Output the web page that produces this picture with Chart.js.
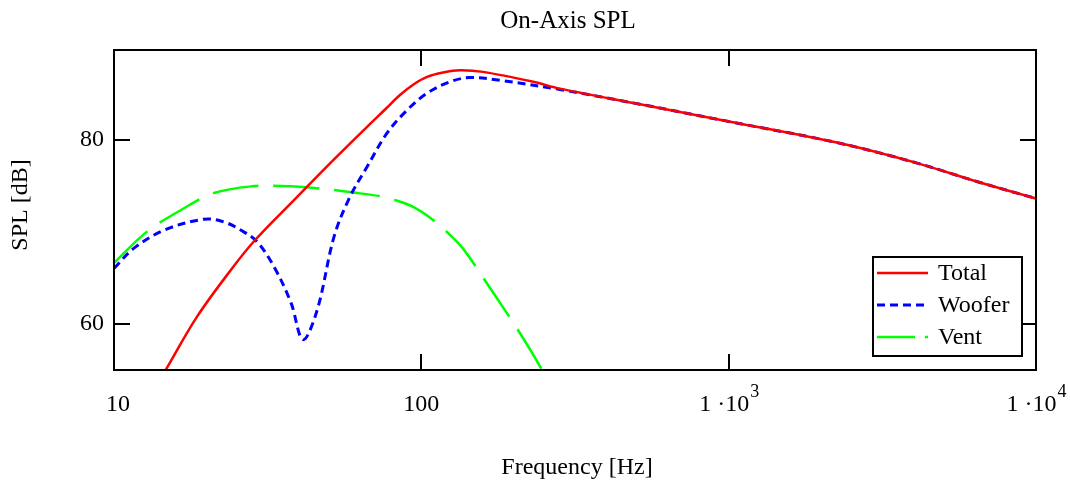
<!DOCTYPE html>
<html>
<head>
<meta charset="utf-8">
<script src="https://cdn.jsdelivr.net/npm/chart.js@4"></script>
<style>
  body { margin: 0; background: #fff; }
</style>
</head>
<body>
<canvas id="myChart" width="1070" height="493"></canvas>
<script>
// values (frequency in Hz, SPL in dB)
var totalFreq = [13, 14.73, 18.63, 24.03, 28.55, 37.67, 51.6, 66.6, 76.2, 85.2, 94.0, 104.4, 117.7, 133.6, 158.8, 231, 282.6, 515, 1011, 2304, 4104, 6412, 10000];
var totalSpl  = [51.9, 55.0, 60.8, 65.9, 69.0, 73.15, 77.8, 81.45, 83.33, 84.9, 86.03, 86.88, 87.36, 87.6, 87.42, 86.35, 85.6, 83.9, 82.0, 79.65, 77.5, 75.5, 73.65];

var wooferFreq = [10, 11.62, 14.55, 19.63, 22.8, 25.9, 29.2, 33.2, 37.67, 41.2, 45.8, 52.0, 58.6, 66.6, 77.3, 89.8, 104.4, 124, 144, 180.4, 282.6, 515, 1011, 2304, 4104, 6412, 10000];
var wooferSpl  = [66.05, 68.25, 70.2, 71.4, 71.1, 70.2, 68.95, 66.2, 62.3, 58.3, 61.5, 69.5, 73.85, 77.1, 80.75, 83.25, 85.1, 86.35, 86.8, 86.5, 85.5, 83.9, 82.0, 79.65, 77.5, 75.5, 73.65];

var ventFreq = [10, 12.81, 16.52, 21.15, 28.55, 34.96, 44.8, 59.96, 73.4, 83.4, 94.0, 104.4, 121.2, 136.7, 163.6, 209.5, 247.1, 280];
var ventSpl  = [66.65, 70.05, 72.4, 74.25, 75.0, 75.0, 74.8, 74.3, 73.9, 73.4, 72.75, 71.8, 70.0, 68.2, 64.4, 59.0, 55.0, 51.5];

var xTicks = [10, 100, 1000, 10000];
var xTickBase = ['10', '100', '1 \u00b710', '1 \u00b710'];
var xTickExp = ['', '', '3', '4'];
var yTicks = [60, 80];

var seriesNames = ['Total', 'Woofer', 'Vent'];

function pts(fs, vs) {
    return fs.map(function (f, i) { return { x: f, y: vs[i] }; });
}

var FONT = '24px "Liberation Serif", "Times New Roman", serif';
var SUP = '18px "Liberation Serif", "Times New Roman", serif';

var frame = {
    id: 'frame',
    afterDraw: function (chart) {
        var c = chart.ctx;
        var a = chart.chartArea;
        var xs = chart.scales.x, ys = chart.scales.y;
        c.save();
        c.strokeStyle = '#000';
        c.lineWidth = 2;
        c.strokeRect(a.left, a.top, a.right - a.left, a.bottom - a.top);

        // inward ticks on all four sides
        c.beginPath();
        xTicks.forEach(function (v) {
            var px = Math.round(xs.getPixelForValue(v));
            c.moveTo(px, a.bottom); c.lineTo(px, a.bottom - 16);
            c.moveTo(px, a.top); c.lineTo(px, a.top + 16);
        });
        yTicks.forEach(function (v) {
            var py = Math.round(ys.getPixelForValue(v));
            c.moveTo(a.left, py); c.lineTo(a.left + 16, py);
            c.moveTo(a.right, py); c.lineTo(a.right - 16, py);
        });
        c.stroke();

        c.fillStyle = '#000';
        c.font = FONT;
        c.textBaseline = 'middle';

        // y tick labels
        c.textAlign = 'right';
        yTicks.forEach(function (v) {
            c.fillText(String(v), a.left - 10, ys.getPixelForValue(v));
        });

        // x tick labels, with superscript exponent
        c.textAlign = 'left';
        xTicks.forEach(function (v, i) {
            var px = xs.getPixelForValue(v);
            c.font = FONT;
            var wb = c.measureText(xTickBase[i]).width;
            c.font = SUP;
            var we = xTickExp[i] ? c.measureText(xTickExp[i]).width : 0;
            var x0 = px - (wb + we) / 2;
            if (i === 0) x0 += 4;
            c.font = FONT;
            c.fillText(xTickBase[i], x0, 405);
            if (xTickExp[i]) {
                c.font = SUP;
                c.fillText(xTickExp[i], x0 + wb + 1, 392);
            }
        });

        // titles
        c.textAlign = 'center';
        c.font = '25px "Liberation Serif", "Times New Roman", serif';
        c.fillText('On-Axis SPL', 568, 21);
        c.font = FONT;
        c.fillText('Frequency [Hz]', 577, 468);
        c.save();
        c.translate(21, 205);
        c.rotate(-Math.PI / 2);
        c.fillText('SPL [dB]', 0, 0);
        c.restore();

        // legend box
        c.fillStyle = '#fff';
        c.fillRect(873, 257, 149, 99);
        c.strokeStyle = '#000';
        c.lineWidth = 2;
        c.strokeRect(873, 257, 149, 99);
        var rows = [273, 305, 337];
        chart.data.datasets.forEach(function (ds, i) {
            c.strokeStyle = ds.borderColor;
            c.lineWidth = ds.borderWidth;
            c.setLineDash(i === 2 ? [38, 10] : (ds.borderDash || []));
            c.beginPath();
            c.moveTo(877, rows[i]);
            c.lineTo(928, rows[i]);
            c.stroke();
            c.setLineDash([]);
            c.fillStyle = '#000';
            c.textAlign = 'left';
            c.fillText(seriesNames[i], 938, rows[i] + 1);
        });
        c.restore();
    }
};

var ctx = document.getElementById('myChart').getContext('2d');

var myChart = new Chart(ctx, {
    type: 'line',
    data: {
        datasets: [{
            label: seriesNames[0],
            data: pts(totalFreq, totalSpl),
            borderColor: '#ff0000',
            borderWidth: 2.5
        }, {
            label: seriesNames[1],
            data: pts(wooferFreq, wooferSpl),
            borderColor: '#0000ff',
            borderWidth: 3,
            borderDash: [8, 5]
        }, {
            label: seriesNames[2],
            data: pts(ventFreq, ventSpl),
            borderColor: '#00ff00',
            borderWidth: 2.5,
            borderDash: [46, 15]
        }]
    },
    options: {
        responsive: false,
        animation: false,
        layout: {
            padding: { left: 114, top: 50, right: 34, bottom: 123 }
        },
        elements: {
            point: { radius: 0 },
            line: { tension: 0.35, fill: false }
        },
        plugins: {
            legend: { display: false },
            tooltip: { enabled: false }
        },
        scales: {
            x: {
                type: 'logarithmic',
                min: 10,
                max: 10000,
                display: false
            },
            y: {
                type: 'linear',
                min: 55,
                max: 89.8,
                display: false
            }
        }
    },
    plugins: [frame]
});
</script>
</body>
</html>
